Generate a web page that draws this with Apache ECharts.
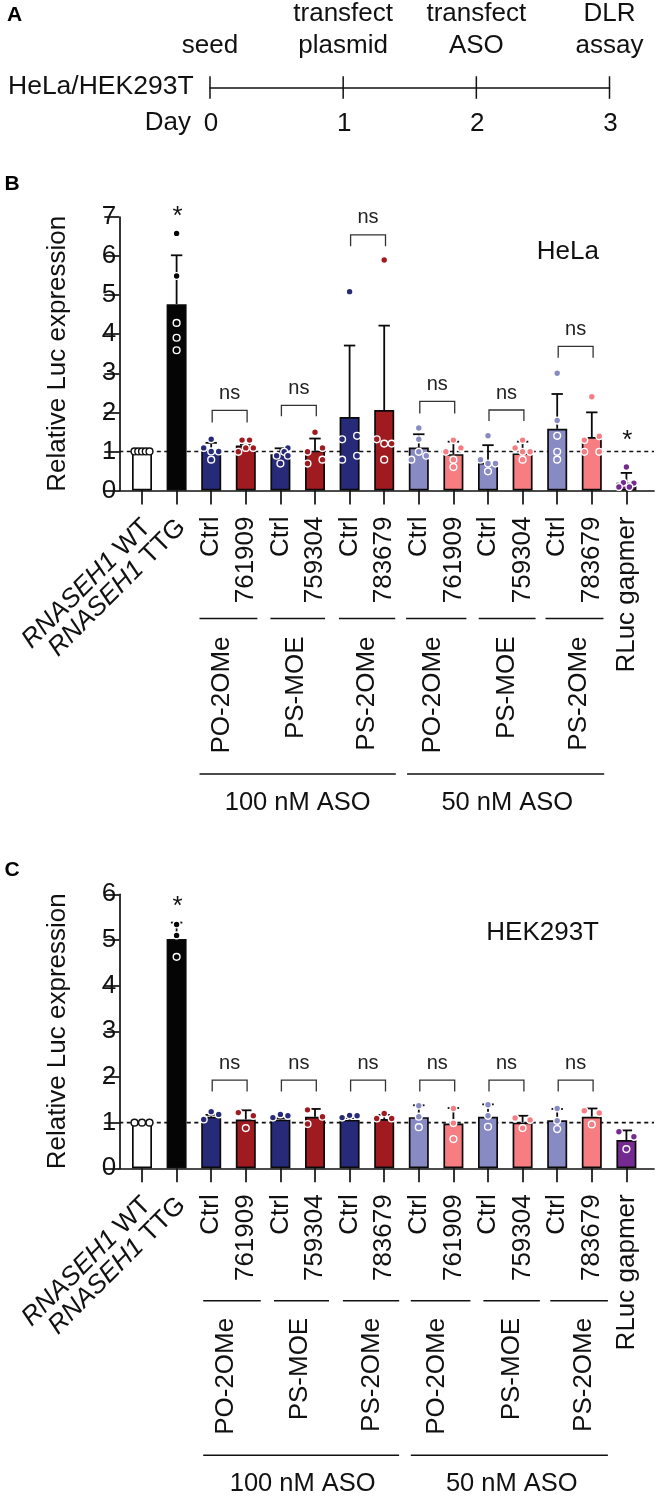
<!DOCTYPE html>
<html><head><meta charset="utf-8">
<style>html,body{margin:0;padding:0;background:#fff}#c{width:657px;height:1496px}</style>
<script src="https://cdn.jsdelivr.net/npm/echarts@6/dist/echarts.min.js"></script>
</head><body><div id="c"></div>
<script>
// ---------- data ----------
const timelineDays = [0, 1, 2, 3];
const timelineSteps = ['seed', 'transfect\nplasmid', 'transfect\nASO', 'DLR\nassay'];

const categoryLabels = ['', '', 'Ctrl', '761909', 'Ctrl', '759304', 'Ctrl', '783679', 'Ctrl', '761909', 'Ctrl', '759304', 'Ctrl', '783679', 'RLuc gapmer'];
const slantedLabels = ['{i|RNASEH1} {n|WT}', '{i|RNASEH1} {n|TTG}', '', '', '', '', '', '', '', '', '', '', '', '', ''];
const chemistryLabels = ['PO-2OMe', 'PS-MOE', 'PS-2OMe', 'PO-2OMe', 'PS-MOE', 'PS-2OMe'];
const chemistryCats = [[2, 3], [4, 5], [6, 7], [8, 9], [10, 11], [12, 13]];
const doseLabels = ['100 nM ASO', '50 nM ASO'];
const doseCats = [[2, 7], [8, 13]];
const barColors = ['#ffffff', '#050505', '#272a78', '#a01b20', '#272a78', '#a01b20', '#272a78', '#a01b20',
  '#888ac4', '#f67d82', '#888ac4', '#f67d82', '#888ac4', '#f67d82', '#742a90'];

const meansB = [1.0, 4.77, 1.05, 1.15, 0.93, 1.02, 1.88, 2.06, 1.10, 0.93, 0.71, 0.95, 1.58, 1.37, 0.2];
const upperB = [1.0, 6.02, 1.22, 1.17, 1.08, 1.33, 3.71, 4.22, 1.44, 1.25, 1.16, 1.25, 2.47, 2.0, 0.45];
const pointsB = [
  [1, 1, 1, 1, 1], [6.58, 5.49, 4.29, 3.91, 3.59], [1.31, 1.09, 1.0, 1.0, 0.79], [1.29, 1.29, 1.09, 1.09, 0.99],
  [1.09, 0.99, 0.89, 0.89, 0.69], [1.49, 1.09, 0.99, 0.79, 0.69], [5.09, 1.4, 1.31, 0.89, 0.79], [5.9, 1.31, 1.2, 1.2, 0.79],
  [1.6, 1.31, 0.99, 0.89, 0.79], [1.29, 1.09, 0.99, 0.79, 0.6], [1.4, 0.79, 0.69, 0.69, 0.49], [1.29, 1.09, 0.99, 0.99, 0.79],
  [3.0, 1.79, 1.4, 0.99, 0.79], [2.4, 1.39, 1.29, 0.99, 0.99], [0.6, 0.2, 0.19, 0.09, 0.09]];
const swarmB = [
  [-1, -0.5, 0, 0.5, 1], [0, 0, 0, 0, 0], [0, -1, 0, 1, 0], [-0.5, 0.5, 0, 1, -1],
  [1, 0.5, -0.5, 1, 0], [0, 1, -1, 1, -1], [0, 1, -1, 1, -1], [0, -1, 0, 1, 0],
  [0, 0, 0, 1, -1], [0, 1, -1, 0, 0], [0, -1, 1, 0, 0], [0, -1, 0, 1, 0],
  [0, 0, 0, 0, 0], [0, 1, -1, -1, 1], [0, -0.4, 1, -1, 0.4]];
const bracketPairsB = [[2, 3, 2.05, 1.74], [4, 5, 2.18, 1.9], [6, 7, 6.54, 6.25], [8, 9, 2.28, 1.97], [10, 11, 2.06, 1.78], [12, 13, 3.69, 3.4]];
const starsB = [[1, 7.0], [14, 1.26]];

const meansC = [1.0, 5.02, 1.13, 1.07, 1.07, 1.13, 1.06, 1.08, 1.12, 0.98, 1.13, 1.0, 1.05, 1.13, 0.62];
const upperC = [1.0, 5.38, 1.17, 1.27, 1.1, 1.3, 1.1, 1.17, 1.38, 1.32, 1.4, 1.15, 1.3, 1.31, 0.83];
const pointsC = [
  [1, 1, 1], [5.34, 5.1, 4.63], [1.07, 1.24, 1.18], [1.22, 1.15, 0.88],
  [1.11, 1.18, 1.15], [1.28, 1.13, 0.97], [1.11, 1.16, 1.15], [1.09, 1.2, 1.09],
  [1.37, 1.13, 0.9], [1.31, 0.99, 0.64], [1.39, 1.15, 0.91], [1.1, 1.06, 0.88],
  [1.31, 1.04, 0.86], [1.26, 1.21, 0.96], [0.8, 0.69, 0.42]];
const swarmC = [
  [-1, 0, 1], [0, 0, 0], [-1, 0, 1], [-1, 1, 0],
  [-1, 0, 1], [-1, 1, -1], [-1, 0, 1], [-1, 0, 1],
  [0, 0, 0], [0, 0, 0], [0, 0, 0], [-1, 1, 0],
  [0, 0, 0], [-1, 1, 0], [-1, 1, 0]];
const bracketPairsC = [[2, 3, 1.93, 1.68], [4, 5, 1.93, 1.68], [6, 7, 1.93, 1.68], [8, 9, 1.93, 1.68], [10, 11, 1.93, 1.68], [12, 13, 1.93, 1.68]];
const starsC = [[1, 5.72]];

// ---------- layout and style ----------
const FONT = '"Liberation Sans", Arial, sans-serif';
const INK = '#111';
const SWARM_STEP = 7.5;
const chemEdgesB = [[-11.7, 11.6], [-10, 10], [-10.6, 11], [-12.7, 13], [-9.3, 13], [-11.7, 11.7]];
const chemEdgesC = [[-8, 14.9], [-6.4, 14], [-6.7, 15], [-8, 17], [-4.6, 17.3], [-6.9, 16.1]];
const chemTextB = [-6.7, -1.6, 0.4, -2.8, 2, 4.7];
const chemTextC = [-2.7, 2.4, 5.4, 1.2, 6.6, 9];
const panels = {
  B: { top: 217, bottom: 490.5, max: 7, means: meansB, upper: upperB, points: pointsB, swarm: swarmB, pairs: bracketPairsB, stars: starsB,
       chemY: 128, chemTextY: 146, doseY: 283.5, doseTextY: 312.5, edges: chemEdgesB, chemText: chemTextB, doseEdge: [-11.7, 11.6, -11.7, 12.4], doseText: [0, 2] , nsLift: 17 },
  C: { top: 894.3, bottom: 1168.3, max: 6, means: meansC, upper: upperC, points: pointsC, swarm: swarmC, pairs: bracketPairsC, stars: starsC,
       chemY: 132.4, chemTextY: 149.5, doseY: 287, doseTextY: 316, edges: chemEdgesC, chemText: chemTextC, doseEdge: [-8, 14.9, -8, 16.1], doseText: [5, 6.5], nsLift: 17 }
};
const AXIS_LEFT = 119.3, AXIS_RIGHT = 654, CAT_LEFT = 124.7, CAT_WIDTH = 519;

const grid = [], xAxis = [], yAxis = [], series = [];
function txt(x, y, text, size, extra) {
  return { type: 'text', x, y, style: Object.assign({ text, fontSize: size, fontFamily: FONT, fill: INK, textAlign: 'center', textVerticalAlign: 'middle' }, extra || {}) };
}
function hiddenY(i, max) { return { gridIndex: i, type: 'value', min: 0, max, show: false }; }

function addPanel(p) {
  const h = p.bottom - p.top, g0 = grid.length;
  // frame: y axis, full-length x axis line, dashed level at 1
  grid.push({ left: AXIS_LEFT, top: p.top, width: AXIS_RIGHT - AXIS_LEFT, height: h });
  xAxis.push({ gridIndex: g0, type: 'value', min: 0, max: 1, axisLine: { onZero: false, lineStyle: { color: INK, width: 1.7 } }, axisTick: { show: false }, axisLabel: { show: false }, splitLine: { show: false } });
  yAxis.push({ gridIndex: g0, type: 'value', min: 0, max: p.max, interval: 1, name: 'Relative Luc expression', nameLocation: 'middle', nameGap: 48,
    nameTextStyle: { fontFamily: FONT, fontSize: 26, color: INK },
    axisLine: { show: true, lineStyle: { color: INK, width: 1.7 } }, axisTick: { show: true, length: 15, lineStyle: { color: INK, width: 1.7 } },
    axisLabel: { fontFamily: FONT, fontSize: 26, color: INK, margin: 3 }, splitLine: { show: false } });
  series.push({ type: 'line', xAxisIndex: g0, yAxisIndex: g0, data: [[0, 1], [1, 1]], symbol: 'none', silent: true, z: 1,
    lineStyle: { color: '#111', width: 1.6, type: [4, 3.5] } });

  // categories, bars and marks
  const g1 = grid.length;
  grid.push({ left: CAT_LEFT, top: p.top, width: CAT_WIDTH, height: h });
  xAxis.push({ gridIndex: g1, type: 'category', data: categoryLabels, axisLine: { show: false },
    axisTick: { show: true, alignWithLabel: true, length: 14, lineStyle: { color: INK, width: 1.7 } },
    axisLabel: { interval: 0, rotate: 90, margin: 26, fontFamily: FONT, fontSize: 26, color: INK } });
  yAxis.push(hiddenY(g1, p.max));
  const common = { xAxisIndex: g1, yAxisIndex: g1, silent: true };
  series.push(Object.assign({ type: 'bar', barWidth: 20, z: 2,
    data: p.means.map((v, i) => ({ value: v, itemStyle: { color: barColors[i], borderColor: '#0a0a0a', borderWidth: 1.7 } })) }, common));

  series.push(Object.assign({ type: 'custom', z: 3, data: p.upper.map((u, i) => [i, u, p.means[i]]).filter(d => d[1] > d[2]),
    renderItem(_, api) {
      const a = api.coord([api.value(0), api.value(2)]), b = api.coord([api.value(0), api.value(1)]);
      const st = { stroke: '#0a0a0a', lineWidth: 1.8, fill: 'none' };
      return { type: 'group', children: [
        { type: 'line', shape: { x1: a[0], y1: a[1], x2: b[0], y2: b[1] }, style: st },
        { type: 'line', shape: { x1: b[0] - 5.7, y1: b[1], x2: b[0] + 5.7, y2: b[1] }, style: st }] };
    } }, common));

  const pts = [];
  p.points.forEach((list, i) => list.forEach((v, j) => pts.push([i, v, p.swarm[i][j]])));
  series.push(Object.assign({ type: 'custom', z: 4, data: pts,
    renderItem(_, api) {
      const i = api.value(0), c = api.coord([i, api.value(1)]);
      return { type: 'circle', shape: { cx: c[0] + api.value(2) * SWARM_STEP, cy: c[1], r: 3.4 },
        style: { fill: barColors[i] === '#ffffff' ? '#fff' : barColors[i], stroke: barColors[i] === '#ffffff' ? '#111' : '#fff', lineWidth: 1.4 } };
    } }, common));

  series.push(Object.assign({ type: 'custom', z: 3, data: p.pairs,
    renderItem(_, api) {
      const a = api.coord([api.value(0), api.value(2)]), b = api.coord([api.value(1), api.value(2)]);
      const lo = api.coord([api.value(0), api.value(3)])[1];
      const x1 = a[0] + 1, x2 = b[0] + 1.3, st = { stroke: '#333', lineWidth: 1.3, fill: 'none' };
      return { type: 'group', children: [
        { type: 'polyline', shape: { points: [[x1, lo], [x1, a[1]], [x2, a[1]], [x2, lo]] }, style: st },
        txt((x1 + x2) / 2, a[1] - p.nsLift, 'ns', 20, { fill: '#222' })] };
    } }, common));

  series.push(Object.assign({ type: 'custom', z: 5, data: p.stars,
    renderItem(_, api) { const c = api.coord([api.value(0), api.value(1)]); return txt(c[0] + 1, c[1], '*', 26); } }, common));

  // group rules and labels below the axis
  series.push(Object.assign({ type: 'custom', z: 3, data: chemistryCats,
    renderItem(params, api) {
      const k = params.dataIndex, a = api.coord([api.value(0), 0]), b = api.coord([api.value(1), 0]), e = p.edges[k];
      const t = txt((a[0] + b[0]) / 2 + p.chemText[k], a[1] + p.chemTextY, chemistryLabels[k], 26, { textAlign: 'right' });
      t.rotation = Math.PI / 2;
      return { type: 'group', children: [
        { type: 'line', shape: { x1: a[0] + e[0], y1: a[1] + p.chemY, x2: b[0] + e[1], y2: a[1] + p.chemY }, style: { stroke: INK, lineWidth: 1.5 } }, t] };
    } }, common));
  series.push(Object.assign({ type: 'custom', z: 3, data: doseCats,
    renderItem(params, api) {
      const k = params.dataIndex, a = api.coord([api.value(0), 0]), b = api.coord([api.value(1), 0]);
      return { type: 'group', children: [
        { type: 'line', shape: { x1: a[0] + p.doseEdge[k * 2], y1: a[1] + p.doseY, x2: b[0] + p.doseEdge[k * 2 + 1], y2: a[1] + p.doseY }, style: { stroke: INK, lineWidth: 1.5 } },
        txt((a[0] + b[0]) / 2 + p.doseText[k], a[1] + p.doseTextY, doseLabels[k], 25.5)] };
    } }, common));

  // slanted labels of the two control bars
  const g2 = grid.length;
  grid.push({ left: CAT_LEFT + 5, top: p.top, width: CAT_WIDTH, height: h });
  xAxis.push({ gridIndex: g2, type: 'category', data: slantedLabels, axisLine: { show: false }, axisTick: { show: false },
    axisLabel: { interval: 0, rotate: 45, margin: 33, fontFamily: FONT, fontSize: 26, color: INK,
      rich: { i: { fontFamily: FONT, fontSize: 26, fontStyle: 'italic', color: INK }, n: { fontFamily: FONT, fontSize: 26, color: INK } } } });
  yAxis.push(hiddenY(g2, p.max));
  series.push({ type: 'bar', xAxisIndex: g2, yAxisIndex: g2, data: [], silent: true });
}

// timeline
grid.push({ left: 210, top: 87.3, width: 399.5, height: 1 });
xAxis.push({ gridIndex: 0, type: 'value', min: 0, max: 3, interval: 1, axisLine: { onZero: false, lineStyle: { color: INK, width: 1.5 } }, axisTick: { show: false },
  splitLine: { show: false }, position: 'top', axisLabel: { show: false } });
yAxis.push({ gridIndex: 0, type: 'value', min: 0, max: 1, show: false });
series.push({ type: 'custom', xAxisIndex: 0, yAxisIndex: 0, silent: true, data: timelineDays.map(d => [d, 1]),
  renderItem(params, api) {
    const c = api.coord([api.value(0), 1]), d = params.dataIndex, lines = timelineSteps[d].split('\n');
    const kids = [{ type: 'line', shape: { x1: c[0], y1: c[1] - 11, x2: c[0], y2: c[1] + 11.5 }, style: { stroke: INK, lineWidth: 1.5 } },
      txt(c[0] + 1, c[1] + 36.7, String(timelineDays[d]), 26)];
    lines.forEach((s, j) => kids.push(txt(c[0], c[1] - 41.6 - (lines.length - 1 - j) * 31.7, s, 26)));
    return { type: 'group', children: kids };
  } });

addPanel(panels.B);
addPanel(panels.C);

const graphic = [
  txt(14.5, 15, 'A', 21, { fontWeight: 'bold', fill: '#000' }),
  txt(12, 184, 'B', 21, { fontWeight: 'bold', fill: '#000' }),
  txt(12, 870.5, 'C', 21, { fontWeight: 'bold', fill: '#000' }),
  txt(8, 87, 'HeLa/HEK293T', 26.5, { textAlign: 'left' }),
  txt(191, 123, 'Day', 26, { textAlign: 'right' }),
  txt(599, 251.7, 'HeLa', 26, { textAlign: 'right' }),
  txt(599, 933, 'HEK293T', 26, { textAlign: 'right' })
];

const chart = echarts.init(document.getElementById('c'), null, { renderer: 'canvas' });
chart.setOption({ animation: false, backgroundColor: '#fff', grid, xAxis, yAxis, series, graphic: { elements: graphic } });
</script></body></html>
